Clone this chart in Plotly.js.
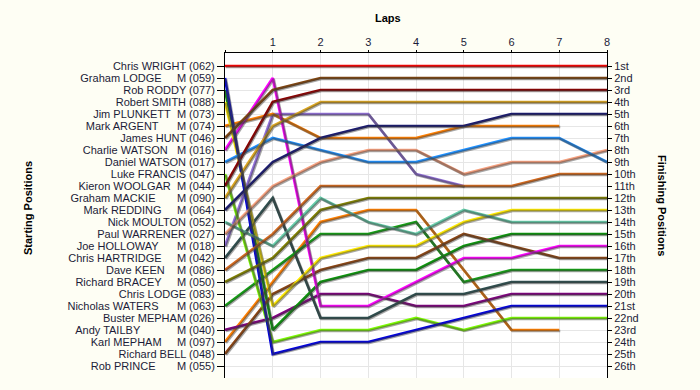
<!DOCTYPE html>
<html>
<head>
<meta charset="utf-8">
<script src="https://cdn.plot.ly/plotly-3.0.1.min.js"></script>
<style>
  html, body { margin: 0; padding: 0; background: #fefef4; }
  #chart { width: 700px; height: 390px; }
</style>
</head>
<body>
<div id="chart"></div>
<script>
// ---- data ----
const laps = [0, 1, 2, 3, 4, 5, 6, 7, 8];
const lapLabels = ['', '1', '2', '3', '4', '5', '6', '7', '8'];

const NB = '\u00a0';
const startNames = [
  'Chris WRIGHT (062)',
  'Graham LODGE' + NB.repeat(5) + 'M (059)',
  'Rob RODDY (077)',
  'Robert SMITH (088)',
  'Jim PLUNKETT' + NB.repeat(2) + 'M (073)',
  'Mark ARGENT' + NB.repeat(6) + 'M (074)',
  'James HUNT (046)',
  'Charlie WATSON' + NB.repeat(3) + 'M (016)',
  'Daniel WATSON (017)',
  'Luke FRANCIS (047)',
  'Kieron WOOLGAR' + NB.repeat(2) + 'M (044)',
  'Graham MACKIE' + NB.repeat(7) + 'M (090)',
  'Mark REDDING' + NB.repeat(5) + 'M (064)',
  'Nick MOULTON (052)',
  'Paul WARRENER (027)',
  'Joe HOLLOWAY' + NB.repeat(6) + 'M (018)',
  'Chris HARTRIDGE' + NB.repeat(5) + 'M (042)',
  'Dave KEEN' + NB.repeat(4) + 'M (086)',
  'Richard BRACEY' + NB.repeat(5) + 'M (050)',
  'Chris LODGE (083)',
  'Nicholas WATERS' + NB.repeat(6) + 'M (063)',
  'Buster MEPHAM (026)',
  'Andy TAILBY' + NB.repeat(12) + 'M (040)',
  'Karl MEPHAM' + NB.repeat(5) + 'M (097)',
  'Richard BELL (048)',
  'Rob PRINCE' + NB.repeat(7) + 'M (055)'
];
const finishLabels = ['1st','2nd','3rd','4th','5th','6th','7th','8th','9th','10th',
  '11th','12th','13th','14th','15th','16th','17th','18th','19th','20th',
  '21st','22nd','23rd','24th','25th','26th'];

// positions per lap (lap 0 = starting position), null = no longer running
const posRed        = [1, 1, 1, 1, 1, 1, 1, 1, 1];
const posBlue       = [2, 25, 24, 24, 23, 22, 21, 21, 21];
const posGreenA     = [3, 23, 19, 18, 18, 16, 15, 15, 15];
const posYellow     = [4, 21, 17, 16, 16, 14, 13, 13, 13];
const posOrangeA    = [6, 5, 7, 7, 7, 6, 6, 6, null];
const posBrownA     = [7, 3, 2, 2, 2, 2, 2, 2, 2];
const posMagenta    = [8, 2, 21, 21, 19, 17, 17, 16, 16];
const posLightBlue  = [9, 7, 8, 9, 9, 8, 7, 7, 9];
const posLawnGreen  = [10, 24, 23, 23, 22, 23, 22, 22, 22];
const posDarkRed    = [11, 4, 3, 3, 3, 3, 3, 3, 3];
const posGoldenrod  = [12, 6, 4, 4, 4, 4, 4, 4, 4];
const posNavy       = [13, 9, 7, 6, 6, 6, 5, 5, 5];
const posAquamarine = [14, 16, 12, 14, 15, 13, 14, 14, 14];
const posSalmon     = [15, 11, 9, 8, 8, 10, 9, 9, 8];
const posMedPurple  = [16, 5, 5, 5, 10, 11, null, null, null];
const posSlate      = [17, 12, 22, 22, 20, 20, 19, 19, 19];
const posChocolate  = [18, 15, 11, 11, 11, 11, 11, 10, 10];
const posOlive      = [19, 17, 13, 12, 12, 12, 12, 12, 12];
const posGreenB     = [21, 18, 15, 15, 14, 19, 18, 18, 18];
const posPurple     = [23, 22, 20, 20, 21, 21, 20, 20, 20];
const posOrangeB    = [24, 19, 14, 13, 13, 18, 23, 23, null];
const posBrownB     = [25, 20, 18, 17, 17, 15, 16, 17, 17];

const seriesList = [
  posMedPurple, posOrangeB, posOrangeA, posPurple, posSlate, posGreenB, posGreenA,
  posBrownB, posMagenta, posYellow, posLawnGreen, posBlue, posAquamarine, posOlive,
  posChocolate, posSalmon, posLightBlue, posNavy, posGoldenrod, posDarkRed, posBrownA, posRed
];
const seriesColors = [
  '#9370db', '#ff7f00', '#ff7f00', '#800080', '#2f4f4f', '#149e14', '#0a960a',
  '#8b4513', '#ff00ff', '#ffea00', '#7cfc00', '#0000e0', '#66cdaa', '#808000',
  '#d2691e', '#f6a07e', '#1e90ff', '#191970', '#daa520', '#8b0000', '#7f4510', '#ff0000'
];

// ---- geometry helpers (axis ranges) ----
const plotW = 382, plotH = 325;
const yTop = -0.083, yBottom = 27;
const dx = 8 / plotW, dy = (yBottom - yTop) / plotH;

const traces = [];
// shadows
seriesList.forEach((s) => {
  traces.push({
    x: laps, y: s, xaxis: 'x2', yaxis: 'y2', mode: 'lines',
    line: { color: 'rgba(60,60,60,0.45)', width: 2.6 },
    hoverinfo: 'skip', showlegend: false, connectgaps: false
  });
});
// main lines
seriesList.forEach((s, i) => {
  traces.push({
    x: laps, y: s, xaxis: 'x', yaxis: 'y', mode: 'lines',
    line: { color: seriesColors[i], width: 2.7 },
    showlegend: false, connectgaps: false
  });
});
// carrier for right axis
traces.push({
  x: laps, y: posRed, xaxis: 'x', yaxis: 'y3', mode: 'lines',
  line: { color: 'rgba(0,0,0,0)', width: 0 }, hoverinfo: 'skip', showlegend: false
});

const fontFam = '"Liberation Sans", Arial, sans-serif';
const txtColor = '#1c1c38';

const layout = {
  width: 700, height: 390,
  margin: { l: 225, r: 93, t: 53, b: 12, pad: 0 },
  paper_bgcolor: '#fefef4',
  plot_bgcolor: '#ffffff',
  font: { family: fontFam, size: 11, color: txtColor },
  showlegend: false,
  xaxis: {
    range: [0, 8], side: 'top', tickvals: laps, ticktext: lapLabels,
    showgrid: true, gridcolor: '#e6e6e6', gridwidth: 1,
    showline: true, linecolor: '#000', linewidth: 1,
    ticks: 'outside', ticklen: 2, tickcolor: '#000',
    zeroline: false, fixedrange: true,
    tickfont: { family: fontFam, size: 11, color: txtColor }
  },
  xaxis2: {
    overlaying: 'x', range: [0 - dx, 8 - dx], visible: false, fixedrange: true
  },
  yaxis: {
    range: [yBottom, yTop], tickvals: startNames.map((_, i) => i + 1), ticktext: startNames,
    showgrid: true, gridcolor: '#e6e6e6', gridwidth: 1,
    showline: true, linecolor: '#000', linewidth: 1,
    ticks: 'outside', ticklen: 7, tickcolor: '#000',
    zeroline: false, fixedrange: true,
    tickfont: { family: fontFam, size: 11, color: txtColor }
  },
  yaxis2: {
    overlaying: 'y', range: [yBottom - dy, yTop - dy], visible: false, fixedrange: true
  },
  yaxis3: {
    overlaying: 'y', side: 'right', anchor: 'x',
    range: [yBottom, yTop], tickvals: finishLabels.map((_, i) => i + 1), ticktext: finishLabels,
    showgrid: false, showline: true, linecolor: '#000', linewidth: 1,
    ticks: 'outside', ticklen: 4, tickcolor: '#000',
    zeroline: false, fixedrange: true,
    tickfont: { family: fontFam, size: 11, color: txtColor }
  },
  annotations: [
    { text: '<b>Laps</b>', xref: 'paper', yref: 'paper', x: (388 - 225) / plotW, y: 1 + (53 - 18) / plotH,
      xanchor: 'center', yanchor: 'middle', showarrow: false,
      font: { family: fontFam, size: 11, color: '#000' } },
    { text: '<b>Starting Positions</b>', xref: 'paper', yref: 'paper',
      x: (28 - 225) / plotW, y: 1 - (208 - 53) / plotH, textangle: -90,
      xanchor: 'center', yanchor: 'middle', showarrow: false,
      font: { family: fontFam, size: 11, color: '#000' } },
    { text: '<b>Finishing Positions</b>', xref: 'paper', yref: 'paper',
      x: 1 + (662 - 607) / plotW, y: 1 - (205 - 53) / plotH, textangle: 90,
      xanchor: 'center', yanchor: 'middle', showarrow: false,
      font: { family: fontFam, size: 11, color: '#000' } }
  ]
};

Plotly.newPlot('chart', traces, layout, { displayModeBar: false, staticPlot: true });
</script>
</body>
</html>
